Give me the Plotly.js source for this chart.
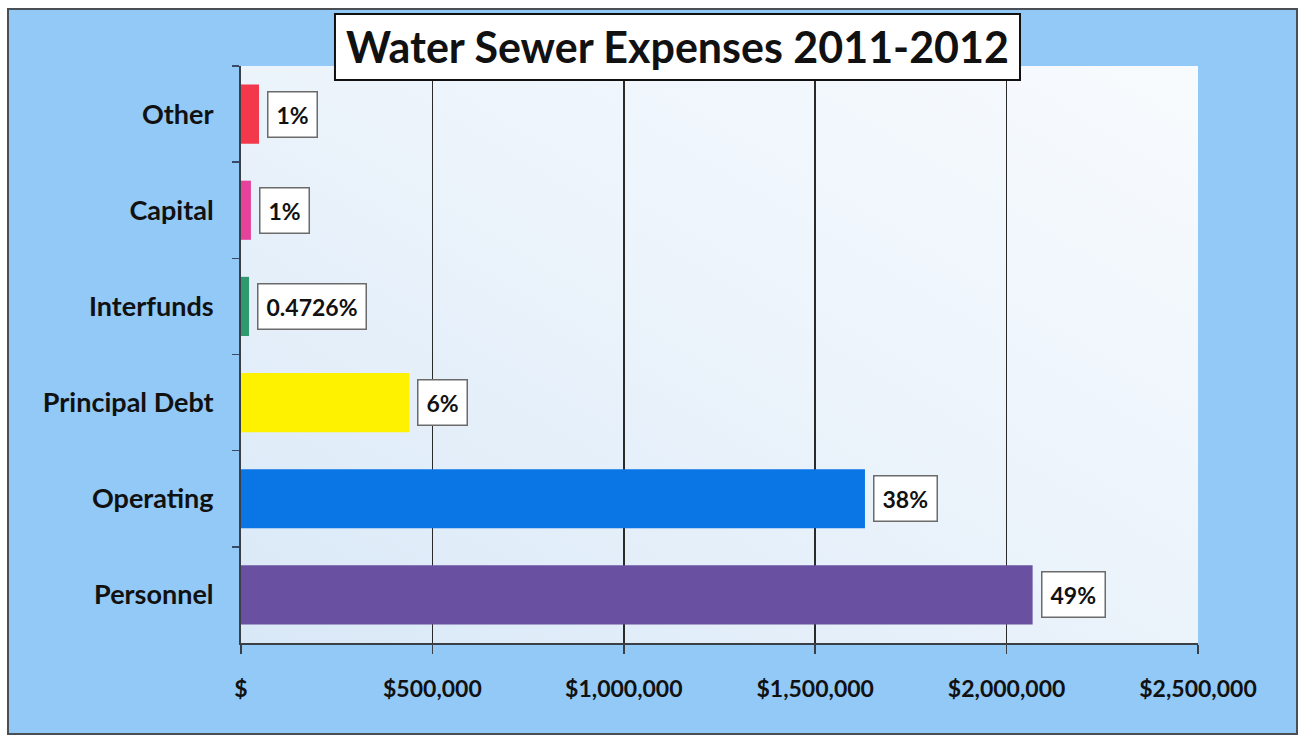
<!DOCTYPE html>
<html>
<head>
<meta charset="utf-8">
<script src="https://cdn.plot.ly/plotly-3.0.1.min.js"></script>
<style>
  html, body { margin: 0; padding: 0; background: #ffffff; width: 1304px; height: 738px; overflow: hidden; }
  #chart { position: absolute; left: 7px; top: 8px; width: 1291px; height: 727px; box-sizing: border-box; border: 2px solid #4a4f55; }
</style>
</head>
<body>
<div id="chart"></div>
<script>
// Data (top-to-bottom order as shown)
const categories = ['Other', 'Capital', 'Interfunds', 'Principal Debt', 'Operating', 'Personnel'];
const expenses = [47000, 26000, 21000, 440000, 1630000, 2068000];
const pctLabels = ['1%', '1%', '0.4726%', '6%', '38%', '49%'];
const barColors = ['#f2384a', '#e5439b', '#2f9a6e', '#fff200', '#0a76e6', '#6a50a0'];
const xTickVals = [0, 500000, 1000000, 1500000, 2000000, 2500000];
const xTickText = ['$', '$500,000', '$1,000,000', '$1,500,000', '$2,000,000', '$2,500,000'];
const chartTitle = 'Water Sewer Expenses 2011-2012';

const FONT = 'Lato, "Open Sans", sans-serif';

const gradSvg = '<svg xmlns="http://www.w3.org/2000/svg" width="100" height="100" preserveAspectRatio="none">' +
  '<defs><linearGradient id="g" x1="0" y1="1" x2="1" y2="0">' +
  '<stop offset="0" stop-color="#d9e8f7"/><stop offset="0.5" stop-color="#ebf3fb"/><stop offset="1" stop-color="#f8fbfe"/>' +
  '</linearGradient></defs><rect width="100" height="100" fill="url(#g)"/></svg>';
const gradUri = 'data:image/svg+xml;charset=utf-8,' + encodeURIComponent(gradSvg);

const trace = {
  type: 'bar',
  orientation: 'h',
  y: categories,
  x: expenses,
  marker: { color: barColors, line: { width: 0 } },
  hoverinfo: 'x+y'
};

const annotations = categories.map((c, i) => ({
  x: expenses[i], y: c, xref: 'x', yref: 'y',
  text: pctLabels[i], showarrow: false,
  xanchor: 'left', yanchor: 'middle', xshift: 8,
  bgcolor: '#ffffff', bordercolor: '#6b6b6b', borderwidth: 1.5, borderpad: 8,
  font: { family: FONT, size: 23, color: '#111111', weight: 'bold' }
}));

annotations.push({
  x: 0.456, y: 1.033, xref: 'paper', yref: 'paper',
  text: chartTitle, showarrow: false,
  xanchor: 'center', yanchor: 'middle',
  font: { family: FONT, size: 43, color: '#111111', weight: 'bold' }
});

const layout = {
  width: 1287, height: 723,
  margin: { l: 232, r: 98, t: 56, b: 90 },
  paper_bgcolor: '#93c9f6',
  plot_bgcolor: '#ebf3fb',
  showlegend: false,
  bargap: 0.385,
  font: { family: FONT, color: '#111111' },
  xaxis: {
    range: [0, 2500000],
    tickvals: xTickVals, ticktext: xTickText,
    showgrid: true, gridcolor: '#2a2a2a', gridwidth: 1.6,
    zeroline: false,
    showline: true, linecolor: '#3a3f45', linewidth: 2,
    ticks: 'outside', ticklen: 9, tickcolor: '#3a3f45', tickwidth: 1.5,
    ticklabelstandoff: 15,
    tickfont: { family: FONT, size: 23, color: '#111111', weight: 'bold' },
    fixedrange: true
  },
  yaxis: {
    type: 'category',
    autorange: 'reversed',
    showgrid: false, zeroline: false,
    showline: true, linecolor: '#3a3f45', linewidth: 2,
    ticks: 'outside', tickson: 'boundaries', ticklen: 7, tickcolor: '#3a4a66', tickwidth: 1.5,
    ticklabelstandoff: 20,
    tickfont: { family: FONT, size: 27, color: '#111111', weight: 'bold' },
    fixedrange: true
  },
  images: [{
    source: gradUri, xref: 'x domain', yref: 'y domain',
    x: 0, y: 1, sizex: 1, sizey: 1, xanchor: 'left', yanchor: 'top',
    sizing: 'stretch', layer: 'below'
  }],
  shapes: [{
    type: 'rect', xref: 'paper', yref: 'paper', layer: 'above',
    x0: 0.0982, x1: 0.814, y0: 0.9757, y1: 1.090,
    fillcolor: '#ffffff', line: { color: '#111111', width: 2 }
  }],
  annotations: annotations
};

Plotly.newPlot('chart', [trace], layout, { displayModeBar: false, staticPlot: true });
</script>
</body>
</html>
